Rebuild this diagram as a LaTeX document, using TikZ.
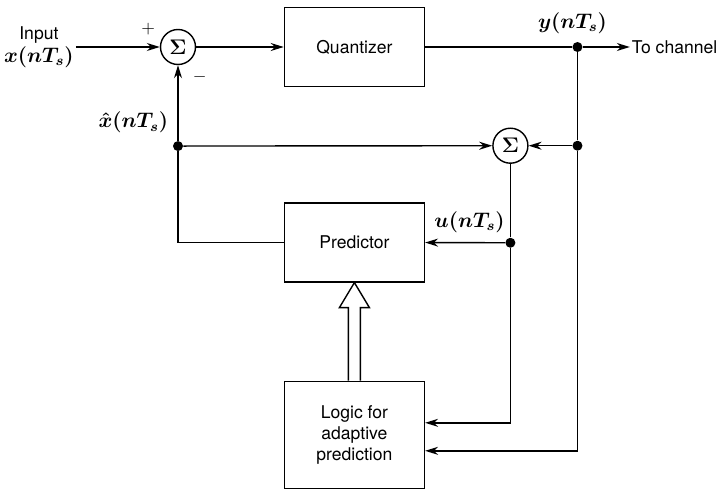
\documentclass[tikz,border=0pt]{standalone}
\usepackage{amsmath,amssymb}
\usepackage{fontspec}
\setmainfont{TeX Gyre Heros}
\usepackage{tikz}
\usetikzlibrary{arrows.meta,positioning}
\tikzset{
  plainbox/.style={draw,thick,align=center,minimum width=28mm,minimum height=15.8mm,
              inner sep=3pt,font=\normalsize},
  sumcircle/.style={draw,thick,circle,minimum size=7mm,inner sep=0pt,font=\large},
  junction/.style={circle,fill,inner sep=0pt,minimum size=2mm},
  flow/.style={-{Stealth[length=2.6mm,width=1.6mm]},thick},
  wire/.style={thick},
  note/.style={inner sep=1pt,align=center},
  mathnote/.style={inner sep=1pt,align=center,font=\large}
}
\begin{document}
\begin{tikzpicture}
  \useasboundingbox (-35.6mm,-88.2mm) rectangle (109.4mm,9.4mm);
  % forward path
  \node[sumcircle] (sum1) at (0,0) {$\boldsymbol{\Sigma}$};
  \node[note,left=16.8mm of sum1] (input) {Input\\[1pt]{\large$\boldsymbol{x(nT_s)}$}};
  \node[plainbox,right=17.5mm of sum1] (quant) {Quantizer};
  \node[junction,right=29.4mm of quant] (ydot) {};
  \node[note,right=9.4mm of ydot] (chan) {To channel};
  % feedback path
  \node[junction,below=15.1mm of sum1] (xdot) {};
  \node[junction,below=17.6mm of ydot] (bdot) {};
  \node[sumcircle,left=8.7mm of bdot] (sum2) {$\boldsymbol{\Sigma}$};
  \node[plainbox,below=23mm of quant] (pred) {Predictor};
  \node[junction,below=14.7mm of sum2] (udot) {};
  \node[plainbox,below=19.6mm of pred,minimum height=21.4mm] (logic) {Logic for\\adaptive\\prediction};
  % signs and labels
  \node[note,above left=-0.6mm and 1.6mm of sum1.north west] (plus) {$+$};
  \node[note,below right=1.8mm and 0mm of sum1.south east] (minus) {$-$};
  \node[mathnote,above=1.2mm of ydot,xshift=-1mm] (ylab) {$\boldsymbol{y(nT_s)}$};
  \node[mathnote,anchor=south east] (xlab) at ([xshift=-0.8mm,yshift=1.4mm]xdot.north west) {$\boldsymbol{\hat{x}(nT_s)}$};
  \node[mathnote,anchor=south east] (ulab) at ([yshift=0.8mm]udot.north west) {$\boldsymbol{u(nT_s)}$};
  % connectors
  \draw[flow] (input) -- (sum1);
  \draw[flow] (sum1) -- (quant);
  \draw[wire] (quant) -- (ydot);
  \draw[flow] (ydot) -- (chan);
  \draw[wire] (ydot) -- (bdot);
  \draw[flow] (bdot) -- (sum2);
  \draw[flow] (xdot) -- (sum2);
  \draw[flow] (xdot) -- (sum1);
  \draw[wire] (pred) -| (xdot);
  \draw[wire] (sum2) -- (udot);
  \draw[flow] (udot) -- (pred);
  \draw[flow] (udot) |- ([yshift=2.4mm]logic.east);
  \draw[flow] (bdot) |- ([yshift=-3.2mm]logic.east);
  % hollow arrow from logic to predictor
  \draw[thick,fill=white] ([xshift=-1.2mm]logic.north) -- ++(0,14.6mm) -- ++(-1.8mm,0)
    -- (pred.south) -- ++(3mm,-5mm) -- ++(-1.8mm,0) -- ([xshift=1.2mm]logic.north);
\end{tikzpicture}
\end{document}
